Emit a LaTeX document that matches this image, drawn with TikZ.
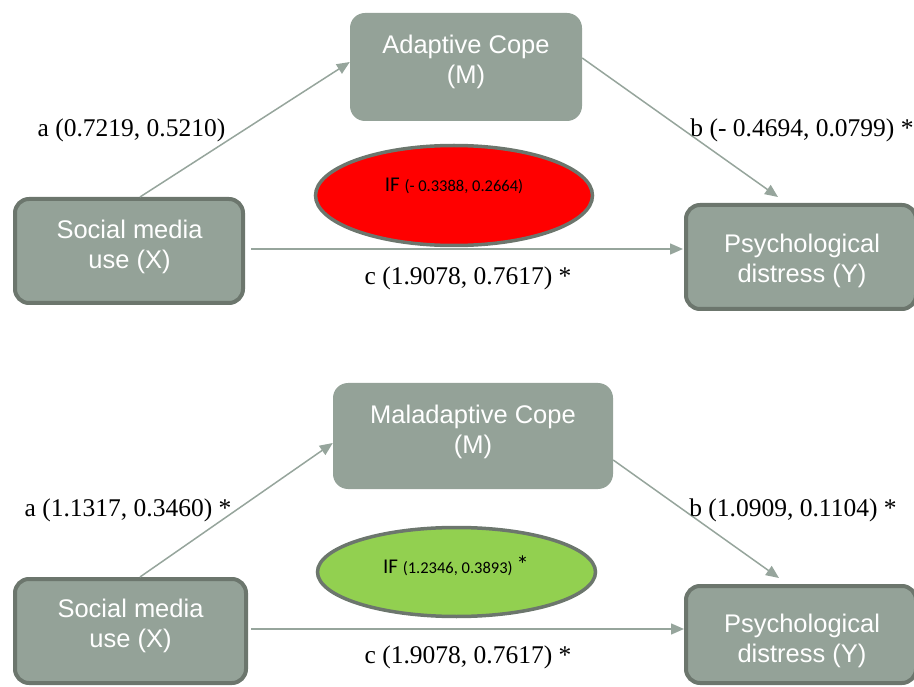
\documentclass[tikz,border=0pt]{standalone}
\usepackage{fontspec}
\setmainfont{Liberation Serif}
\newfontfamily\arialf{Liberation Sans}
\newfontfamily\calf{Carlito}
\usetikzlibrary{arrows.meta,shapes.geometric}
\definecolor{boxfill}{RGB}{148,162,152}
\definecolor{boxline}{RGB}{108,118,109}
\definecolor{arrcol}{RGB}{150,165,156}
\definecolor{ifred}{RGB}{255,0,0}
\definecolor{ifgreen}{RGB}{146,208,80}
\begin{document}
\begin{tikzpicture}[x=1pt,y=-1pt,
  medbox/.style={rectangle, rounded corners=15pt, fill=boxfill, draw=none, inner sep=0pt},
  endbox/.style={rectangle, rounded corners=14pt, fill=boxfill, draw=boxline, line width=4pt, inner sep=0pt},
  boxtext/.style={text=white, font=\arialf\fontsize{25.5}{30}\selectfont, align=center, inner sep=0pt},
  coef/.style={font=\fontsize{25.5}{30}\selectfont, inner sep=0pt},
  ifell/.style={ellipse, draw=boxline, line width=3.5pt, inner sep=0pt},
  iftext/.style={font=\calf, inner sep=0pt},
  arr/.style={draw=arrcol, line width=1.5pt, -{Triangle[length=13pt,width=11pt]}}]
\useasboundingbox (0,0) rectangle (914,687);

% ---------- top model ----------
\node[medbox, minimum width=232pt, minimum height=108pt] (MT) at (466,67) {};
\node[boxtext] (MTt) at (466,62) {Adaptive Cope\\(M)};
\node[endbox, minimum width=228pt, minimum height=104pt] (XT) at (129,251) {};
\node[boxtext] (XTt) at (129.5,247) {Social media\\use (X)};
\node[endbox, minimum width=230pt, minimum height=104pt] (YT) at (801,257) {};
\node[boxtext] (YTt) at (802,260.5) {Psychological\\distress (Y)};
\node[ifell, fill=ifred, minimum width=277pt, minimum height=100pt] (ET) at (454,195.5) {};
\node[iftext] (ETt) at (454,186) {\fontsize{21}{24}\selectfont IF \fontsize{16.5}{20}\selectfont(- 0.3388, 0.2664)};

\draw[arr] ([xshift=11pt]XT.north) -- ([yshift=5pt]MT.west);
\draw[arr] ([yshift=9pt]MT.east) -- ([xshift=-23pt,yshift=6pt]YT.north);
\draw[arr] ([xshift=6pt,yshift=2pt]XT.east) -- ([xshift=-1pt,yshift=8pt]YT.west);

\node[coef] (aT) at (131.5,130) {a (0.7219, 0.5210)};
\node[coef] (bT) at (802,130) {b (- 0.4694, 0.0799) *};
\node[coef] (cT) at (468,278) {c (1.9078, 0.7617) *};

% ---------- bottom model ----------
\node[medbox, minimum width=280pt, minimum height=106pt] (MB) at (473,436) {};
\node[boxtext] (MBt) at (473,432) {Maladaptive Cope\\(M)};
\node[endbox, minimum width=231pt, minimum height=104pt] (XB) at (130.5,631) {};
\node[boxtext] (XBt) at (130.5,626) {Social media\\use (X)};
\node[endbox, minimum width=230pt, minimum height=97pt] (YB) at (801,634.5) {};
\node[boxtext] (YBt) at (802,641) {Psychological\\distress (Y)};
\node[ifell, fill=ifgreen, minimum width=278pt, minimum height=89pt] (EB) at (456.5,572) {};
\node[iftext] (EBt) at (456,566) {\fontsize{21}{24}\selectfont IF \fontsize{16.5}{20}\selectfont(1.2346, 0.3893) \fontsize{25}{28}\selectfont*};

\draw[arr] ([xshift=9.5pt]XB.north) -- ([yshift=-7pt]MB.west);
\draw[arr] ([yshift=-24pt]MB.east) -- ([xshift=-22pt,yshift=6pt]YB.north);
\draw[arr] ([xshift=3pt,yshift=2pt]XB.east) -- ([yshift=5.5pt]YB.west);

\node[coef] (aB) at (128,510) {a (1.1317, 0.3460) *};
\node[coef] (bB) at (793,510) {b (1.0909, 0.1104) *};
\node[coef] (cB) at (468,657) {c (1.9078, 0.7617) *};
\end{tikzpicture}
\end{document}
